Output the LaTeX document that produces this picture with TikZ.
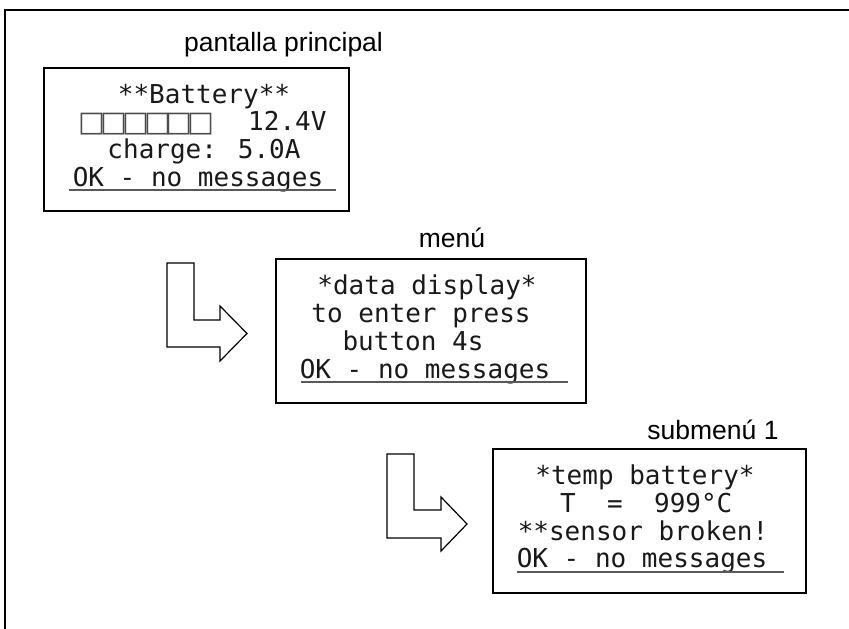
\documentclass[tikz,border=0pt]{standalone}
\usepackage{fontspec}
\setmainfont{Liberation Sans}
\newfontfamily\lcdfont{DejaVu Sans Mono}
\newfontfamily\symfont{DejaVu Sans}
\newcommand\lcdsq{\makebox[21.7pt]{\symfont\fontsize{28.5}{28.5}\selectfont □}}
\begin{document}
\begin{tikzpicture}[x=1pt,y=-1pt,
 lcdbox/.style={draw=black, line width=1.4pt, inner sep=0pt},
 lcd/.style={inner sep=0pt, anchor=base, font=\lcdfont\fontsize{26}{28}\selectfont, text=black!90},
 lbl/.style={inner sep=0pt, anchor=base, font=\fontsize{26.5}{30}\selectfont},
 uline/.style={draw=black!65, line width=1.5pt},
 barrow/.style={draw=black, line width=1.2pt, fill=white, line join=miter}]
\useasboundingbox (0,0) rectangle (849,629);
\draw[line width=2pt] (5.3,629) -- (5.3,10) -- (849,10);

% boxes
\node[lcdbox, minimum width=305pt, minimum height=143pt] (box1) at (196.5,139.5) {};
\node[lcdbox, minimum width=310pt, minimum height=144pt] (box2) at (431,331) {};
\node[lcdbox, minimum width=313pt, minimum height=144pt] (box3) at (649.5,521) {};

% labels
\node[lbl] (lab1) at (283.5,51) {pantalla principal};
\node[lbl] (lab2) at (452,247) {menú};
\node[lbl] (lab3) at (713,439) {submenú 1};

% box 1 text
\node[lcd] (b1a) at (204,103) {**Battery**};
\node[inner sep=0pt, anchor=base west, text=black!70, line width=1pt] (b1sq) at (81,131) {\lcdsq\lcdsq\lcdsq\lcdsq\lcdsq\lcdsq};
\node[lcd, anchor=base west] (b1b) at (248,130.6) {12.4V};
\node[lcd] (b1c) at (204,158.3) {charge: 5.0A};
\node[lcd] (b1d) at (198,186) {OK - no messages};
\coordinate (u1a) at (69,190); \coordinate (u1b) at (336,190);
\draw[uline] (u1a) -- (u1b);

% box 2 text
\node[lcd] (b2a) at (427,294.9) {*data display*};
\node[lcd] (b2b) at (421,322.6) {to enter press};
\node[lcd] (b2c) at (413,350.3) {button 4s};
\node[lcd] (b2d) at (425,378) {OK - no messages};
\coordinate (u2a) at (301,382); \coordinate (u2b) at (568,382);
\draw[uline] (u2a) -- (u2b);

% box 3 text
\node[lcd] (b3a) at (645,484) {*temp battery*};
\node[lcd, anchor=base west] (b3b) at (560,512) {T~~=~~999°C};
\node[lcd] (b3c) at (643,540) {**sensor broken!};
\node[lcd] (b3d) at (642,567.5) {OK - no messages};
\coordinate (u3a) at (517,572); \coordinate (u3b) at (784,572);
\draw[uline] (u3a) -- (u3b);

% block arrows
\draw[barrow] (167,263) -- (194,263) -- (194,320) -- (220,320) -- (220,306)
  -- (247,333.5) -- (220,361) -- (220,347) -- (167,347) -- cycle;
\draw[barrow] (387,454) -- (414,454) -- (414,510) -- (441,510) -- (441,497)
  -- (467,524) -- (441,551) -- (441,538) -- (387,538) -- cycle;
\end{tikzpicture}
\end{document}
